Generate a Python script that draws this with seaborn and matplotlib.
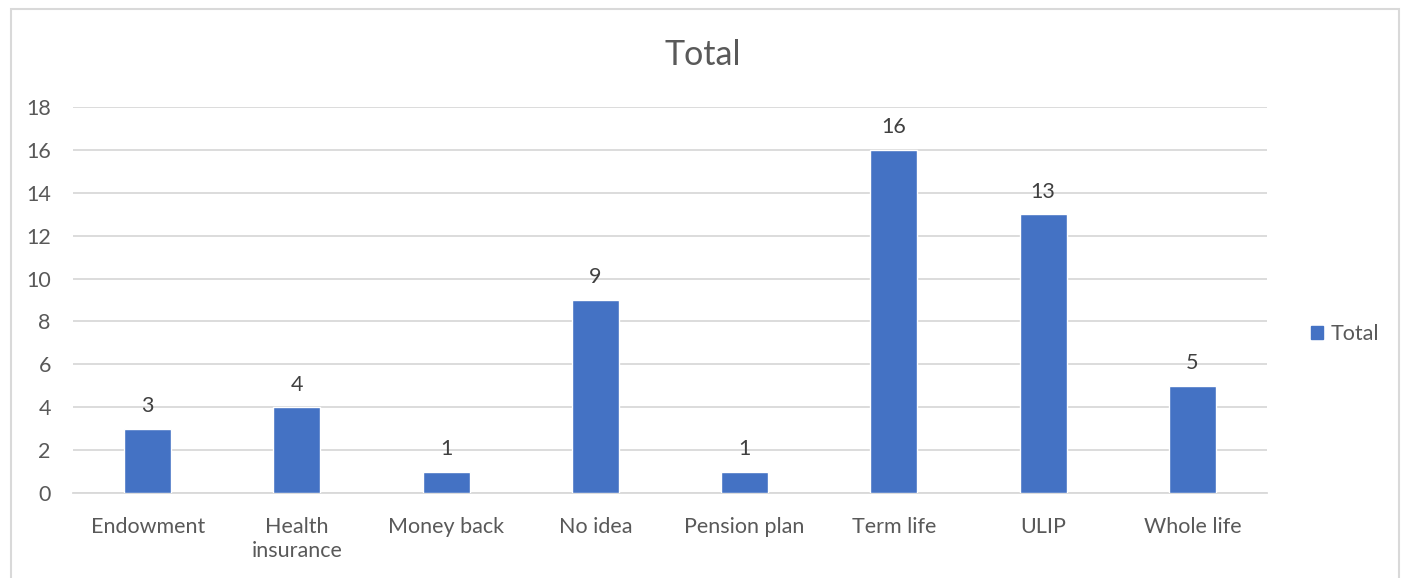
import matplotlib
matplotlib.use("Agg")
import matplotlib.pyplot as plt
import matplotlib.patches as mpatches
import seaborn as sns
import pandas as pd

categories = ["Endowment", "Health\ninsurance", "Money back", "No idea",
              "Pension plan", "Term life", "ULIP", "Whole life"]
totals = [3, 4, 1, 9, 1, 16, 13, 5]
y_ticks = [0, 2, 4, 6, 8, 10, 12, 14, 16, 18]

bar_color = "#4472C4"
grid_color = "#D9D9D9"
text_color = "#595959"

sns.set_theme(style="white")
plt.rcParams["font.family"] = ["Lato", "DejaVu Sans"]

df = pd.DataFrame({"Category": categories, "Total": totals})

fig = plt.figure(figsize=(14.05, 5.78), dpi=100)
ax = fig.add_axes([0.052, 0.147, 0.8498, 0.668])

sns.barplot(data=df, x="Category", y="Total", color=bar_color,
            width=0.315, saturation=1, ax=ax, zorder=3)

ax.set_ylim(0, 18)
ax.set_yticks(y_ticks)
ax.set_xlim(-0.5, len(categories) - 0.5)
ax.yaxis.grid(True, color=grid_color, linewidth=1.3, zorder=0)
ax.set_axisbelow(True)
for side in ["top", "right", "left"]:
    ax.spines[side].set_visible(False)
ax.spines["bottom"].set_color(grid_color)
ax.spines["bottom"].set_linewidth(1.3)
ax.set_xlabel("")
ax.set_ylabel("")
ax.tick_params(axis="both", length=0, labelsize=15.5, colors=text_color)
ax.tick_params(axis="x", pad=17)
ax.tick_params(axis="y", pad=16)
for lbl in ax.get_xticklabels():
    lbl.set_linespacing(1.25)

for container in ax.containers:
    ax.bar_label(container, labels=[str(v) for v in totals], padding=9,
                 fontsize=15.5, color="#404040")

fig.text(0.5, 0.905, "Total", ha="center", va="center", fontsize=24.5,
         color=text_color)

handle = mpatches.Patch(color=bar_color, label="Total")
fig.legend(handles=[handle], loc="center left", bbox_to_anchor=(0.919, 0.422),
           frameon=False, fontsize=15.5, handlelength=0.6, handleheight=0.6,
           handletextpad=0.35, labelcolor=text_color)

border = mpatches.Rectangle((0.0075, -0.02), 0.988, 1.005, transform=fig.transFigure,
                            fill=False, edgecolor="#D9D9D9", linewidth=1.5)
fig.patches.append(border)

fig.savefig("out.png", dpi=100, facecolor="white")
